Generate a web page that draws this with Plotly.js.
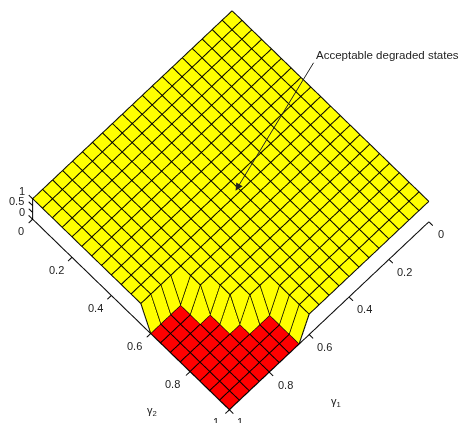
<!DOCTYPE html>
<html><head><meta charset="utf-8">
<script src="https://cdn.plot.ly/plotly-3.0.1.min.js"></script>
<style>html,body{margin:0;padding:0;background:#fff;overflow:hidden}#c{width:460px;height:423px}</style>
</head><body><div id="c"></div>
<script>
const gamma=[0,0.05,0.1,0.15,0.2,0.25,0.3,0.35,0.4,0.45,0.5,0.55,0.6,0.65,0.7,0.75,0.8,0.85,0.9,0.95,1];
// rows: gamma2, columns: gamma1
const zRows=[
[1,1,1,1,1,1,1,1,1,1,1,1,1,1,1,1,1,1,1,1,1],
[1,1,1,1,1,1,1,1,1,1,1,1,1,1,1,1,1,1,1,1,1],
[1,1,1,1,1,1,1,1,1,1,1,1,1,1,1,1,1,1,1,1,1],
[1,1,1,1,1,1,1,1,1,1,1,1,1,1,1,1,1,1,1,1,1],
[1,1,1,1,1,1,1,1,1,1,1,1,1,1,1,1,1,1,1,1,1],
[1,1,1,1,1,1,1,1,1,1,1,1,1,1,1,1,1,1,1,1,1],
[1,1,1,1,1,1,1,1,1,1,1,1,1,1,1,1,1,1,1,1,1],
[1,1,1,1,1,1,1,1,1,1,1,1,1,1,1,1,1,1,1,1,1],
[1,1,1,1,1,1,1,1,1,1,1,1,1,1,1,1,1,1,1,1,1],
[1,1,1,1,1,1,1,1,1,1,1,1,1,1,1,1,1,1,1,1,1],
[1,1,1,1,1,1,1,1,1,1,1,1,1,1,1,1,1,1,1,1,1],
[1,1,1,1,1,1,1,1,1,1,1,1,1,1,1,1,1,1,1,1,1],
[1,1,1,1,1,1,1,1,1,1,1,1,1,1,1,1,1,0,0,0,0],
[1,1,1,1,1,1,1,1,1,1,1,1,1,1,1,1,1,0,0,0,0],
[1,1,1,1,1,1,1,1,1,1,1,1,1,1,1,1,0,0,0,0,0],
[1,1,1,1,1,1,1,1,1,1,1,1,1,1,1,1,0,0,0,0,0],
[1,1,1,1,1,1,1,1,1,1,1,1,1,1,1,0,0,0,0,0,0],
[1,1,1,1,1,1,1,1,1,1,1,1,1,0,0,0,0,0,0,0,0],
[1,1,1,1,1,1,1,1,1,1,1,1,1,0,0,0,0,0,0,0,0],
[1,1,1,1,1,1,1,1,1,1,1,1,1,0,0,0,0,0,0,0,0],
[1,1,1,1,1,1,1,1,1,1,1,1,1,0,0,0,0,0,0,0,0]];
const gammaTicks=[0,0.2,0.4,0.6,0.8,1];
const gammaTickText=['0','0.2','0.4','0.6','0.8','1'];
const zTickHeights=[0.33,0.67,1];
const zTickText=['0','0.5','1'];
const calloutText='Acceptable degraded states';
const okColor='#ffff00', failColor='#ff0000';

const n=gamma.length, vx=[],vy=[],vz=[],I=[],J=[],K=[],fc=[];
zRows.forEach((r,a)=>r.forEach((z,b)=>{vx.push(gamma[b]);vy.push(gamma[a]);vz.push(z);}));
for(let a=0;a<n-1;a++)for(let b=0;b<n-1;b++){
  const p=a*n+b,q=p+1,r=p+n,s=r+1;
  const col=(vz[p]+vz[q]+vz[r]+vz[s]===0)?failColor:okColor;
  I.push(p,p);J.push(q,s);K.push(s,r);fc.push(col,col);
}
const lift=0.01, gx=[],gy=[],gz=[];
for(let a=0;a<n;a++){for(let b=0;b<n;b++){gx.push(gamma[b]);gy.push(gamma[a]);gz.push(zRows[a][b]+lift);}gx.push(null);gy.push(null);gz.push(null);}
for(let b=0;b<n;b++){for(let a=0;a<n;a++){gx.push(gamma[b]);gy.push(gamma[a]);gz.push(zRows[a][b]+lift);}gx.push(null);gy.push(null);gz.push(null);}
const ax=[1,1,null,0,1,null,1,1],ay=[0,1,null,1,1,null,0,0],az=[0,0,null,0,0,null,0,1];
const tl=0.02;
gammaTicks.forEach(t=>{ax.push(1,1+tl,null,t,t,null);ay.push(t,t,null,1,1+tl,null);az.push(0,0,null,0,0,null);});
ax.push(null,1,1);ay.push(null,0,-tl);az.push(null,0,0);
zTickHeights.forEach(t=>{ax.push(null,1,1);ay.push(null,0,-tl);az.push(null,t,t);});
const lab={color:'#222',family:'Liberation Sans, Arial, sans-serif',size:11};
const anns=[];
const d=0.065;
const lShift=[1,-3,-3,-3,-5,0], rShift=[-1,3,3,3,3,-2];
gammaTicks.forEach((t,i)=>{
  anns.push({x:1+d,y:t,z:0,text:gammaTickText[i],showarrow:false,font:lab,xshift:lShift[i]});
  anns.push({x:t,y:1+d,z:0,text:gammaTickText[i],showarrow:false,font:lab,xshift:rShift[i]});
});
const zXS=[0,-5,0], zYS=[-10,-6,-3];
zTickHeights.forEach((t,i)=>anns.push({x:1,y:-0.055,z:t,text:zTickText[i],showarrow:false,font:lab,xshift:zXS[i],yshift:zYS[i]}));
anns.push({x:1.15,y:0.75,z:0,text:'γ<sub>2</sub>',showarrow:false,font:lab,yshift:-21,xshift:2});
anns.push({x:0.7605,y:1.195,z:0,text:'γ<sub>1</sub>',showarrow:false,font:lab,xshift:21});
anns.push({x:0.463,y:0.487,z:1,text:calloutText,showarrow:true,arrowhead:2,arrowsize:1.5,arrowwidth:1,arrowcolor:'#222',ax:78,ay:-128,xanchor:'left',yanchor:'bottom',font:{...lab,size:11.5}});
const data=[
 {type:'mesh3d',x:vx,y:vy,z:vz,i:I,j:J,k:K,facecolor:fc,flatshading:true,showscale:false,
  lighting:{ambient:1,diffuse:0,specular:0,fresnel:0,roughness:1},hoverinfo:'skip'},
 {type:'scatter3d',mode:'lines',x:gx,y:gy,z:gz,line:{color:'#000',width:2},hoverinfo:'skip',showlegend:false},
 {type:'scatter3d',mode:'lines',x:ax,y:ay,z:az,line:{color:'#000',width:2},hoverinfo:'skip',showlegend:false}
];
const axisOff=r=>({visible:false,range:r,autorange:false});
const layout={width:460,height:423,margin:{l:0,r:0,t:0,b:0},paper_bgcolor:'#fff',showlegend:false,
 scene:{domain:{x:[0,1],y:[0,1]},bgcolor:'#fff',
  xaxis:axisOff([-0.1,1.2]),yaxis:axisOff([-0.1,1.2]),zaxis:axisOff([-0.1,1.1]),
  aspectmode:'manual',aspectratio:{x:1.722,y:1.722,z:0.39},
  camera:{projection:{type:'orthographic'},up:{x:0,y:0,z:1},center:{x:0.002,y:-0.002,z:0.285},eye:{x:1,y:1.01,z:4.885}},
  annotations:anns}};
Plotly.newPlot('c',data,layout,{displayModeBar:false});
</script></body></html>
